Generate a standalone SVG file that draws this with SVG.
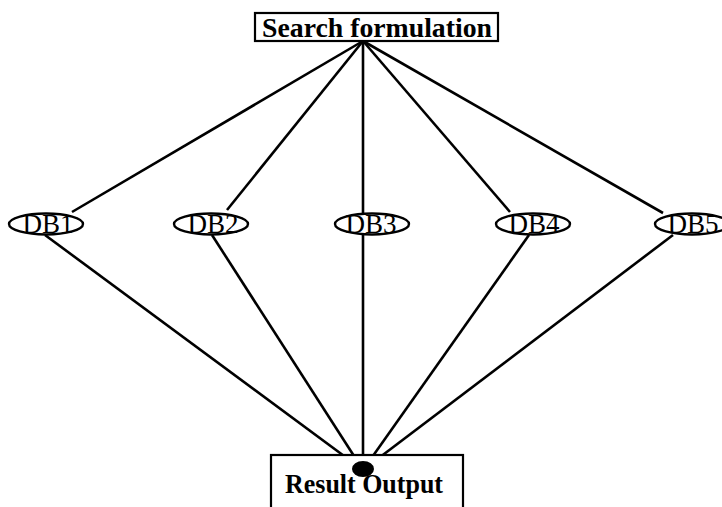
<svg xmlns="http://www.w3.org/2000/svg" width="722" height="507" viewBox="0 0 722 507">
<style>
.box{fill:#fff;stroke:#000;stroke-width:2.2}
.db{fill:#fff;stroke:#000;stroke-width:2.4}
.edge{stroke:#000;stroke-width:2.6;fill:none}
.title{font-family:"Liberation Serif","Times New Roman",serif;font-weight:bold;font-size:28px;fill:#000}
.lbl{font-family:"Liberation Serif","Times New Roman",serif;font-size:27px;fill:#000}
</style>
<rect width="722" height="507" fill="#fff"/>
<g id="connectors">
<line class="edge" x1="363" y1="41" x2="72" y2="212"/>
<line class="edge" x1="363" y1="41" x2="227" y2="210"/>
<line class="edge" x1="363" y1="41" x2="363" y2="214"/>
<line class="edge" x1="363" y1="41" x2="510" y2="212"/>
<line class="edge" x1="363" y1="41" x2="663" y2="213"/>
<line class="edge" x1="45" y1="235" x2="363" y2="470"/>
<line class="edge" x1="212" y1="235" x2="363" y2="470"/>
<line class="edge" x1="363" y1="235" x2="363" y2="470"/>
<line class="edge" x1="529" y1="235" x2="363" y2="470"/>
<line class="edge" x1="673" y1="235" x2="363" y2="470"/>
</g>
<g id="search">
<rect class="box" x="255" y="13" width="243" height="28"/>
<text class="title" x="377" y="37" text-anchor="middle" textLength="230" lengthAdjust="spacingAndGlyphs">Search formulation</text>
</g>
<g id="db1">
<ellipse class="db" cx="46" cy="224" rx="37" ry="10.5"/>
<text class="lbl" x="48" y="233" text-anchor="middle">DB1</text>
</g>
<g id="db2">
<ellipse class="db" cx="211" cy="224" rx="37" ry="10.5"/>
<text class="lbl" x="213" y="233" text-anchor="middle">DB2</text>
</g>
<g id="db3">
<ellipse class="db" cx="372" cy="224" rx="37" ry="10.5"/>
<text class="lbl" x="371" y="233" text-anchor="middle">DB3</text>
</g>
<g id="db4">
<ellipse class="db" cx="533" cy="224" rx="37" ry="10.5"/>
<text class="lbl" x="534" y="233" text-anchor="middle">DB4</text>
</g>
<g id="db5">
<ellipse class="db" cx="692" cy="224" rx="37" ry="10.5"/>
<text class="lbl" x="693" y="233" text-anchor="middle">DB5</text>
</g>
<g id="result">
<rect class="box" x="271" y="455" width="192" height="60"/>
<ellipse cx="363" cy="469" rx="11" ry="8" fill="#000"/>
<text class="title" x="364" y="493" text-anchor="middle" textLength="158" lengthAdjust="spacingAndGlyphs">Result Output</text>
</g>
</svg>
